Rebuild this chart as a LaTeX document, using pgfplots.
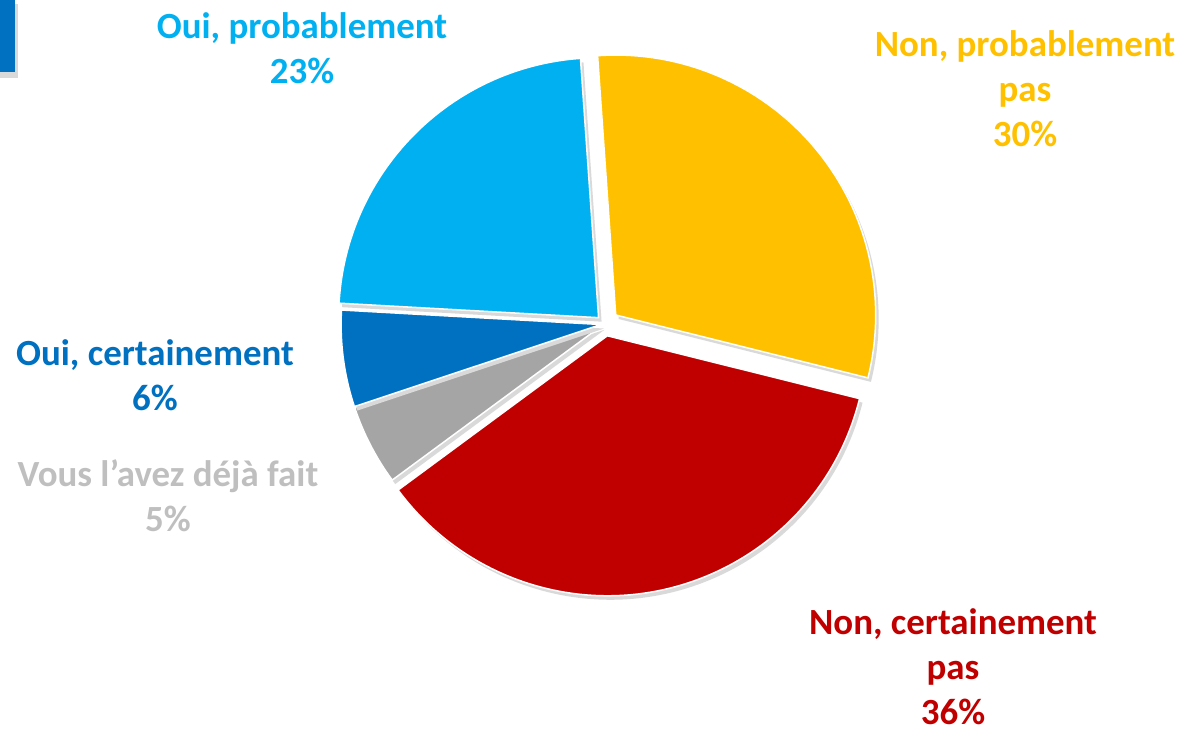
\documentclass[border=0pt]{standalone}
\usepackage{pgfplots}
\pgfplotsset{compat=1.18}
\usetikzlibrary{calc}
\usepackage{fontspec}
\setmainfont{Carlito}

\definecolor{cYellow}{HTML}{FFC000}
\definecolor{cRed}{HTML}{C00000}
\definecolor{cGray}{HTML}{A5A5A5}
\definecolor{cDBlue}{HTML}{0070C0}
\definecolor{cLBlue}{HTML}{00B0F0}
\definecolor{cLabGray}{HTML}{BFBFBF}
\definecolor{cShadow}{HTML}{D9D9D9}

% pie centre and radius in pixels of the reference
\def\cx{605}
\def\cy{324}
\def\rad{5.2cm}

% #1 start angle, #2 value (%), #3 explode (px), #4 fill colour
\newcommand{\slice}[4]{%
  \pgfplotsextra{%
  \pgfmathsetmacro\sA{#1}%
  \pgfmathsetmacro\sB{#1-#2*3.6}%
  \pgfmathsetmacro\sM{(\sA+\sB)/2}%
  \pgfmathsetmacro\sR{#3*0.02}%
  \fill[cShadow] ($(axis cs:\cx,\cy)+(\sM:\sR cm)+(0.06cm,-0.08cm)$) -- ++(\sA:\rad)
    arc[start angle=\sA, end angle=\sB, radius=\rad] -- cycle;
  \filldraw[fill=#4, draw=white, line width=0.03cm] ($(axis cs:\cx,\cy)+(\sM:\sR cm)$) -- ++(\sA:\rad)
    arc[start angle=\sA, end angle=\sB, radius=\rad] -- cycle;
  }%
}

\begin{document}
\begin{tikzpicture}
\begin{axis}[
  hide axis,
  scale only axis,
  x=0.02cm, y=0.02cm,
  xmin=0, xmax=1181, ymin=0, ymax=730,
  y dir=reverse,
  clip=false,
]
\coordinate (bl) at (axis cs:0,730);
\coordinate (tr) at (axis cs:1181,0);

% corner marker
\fill[cShadow] (axis cs:0,4) rectangle (axis cs:18,78);
\fill[cDBlue] (axis cs:0,0) rectangle (axis cs:15,72);

% slices, clockwise from the top
\slice{94}{30}{14}{cYellow}
\slice{94-3.6*30}{36}{12}{cRed}
\slice{94-3.6*66}{5}{4}{cGray}
\slice{94-3.6*71}{6}{4}{cDBlue}
\slice{94-3.6*77}{23}{9}{cLBlue}

\tikzset{lab/.style={align=center, inner sep=0pt, font=\fontsize{21}{25.6}\selectfont\bfseries}}
\node[lab, text=cLBlue] at (axis cs:302,48) {Oui, probablement\\23\%};
\node[lab, text=cYellow] at (axis cs:1025,89) {Non, probablement\\pas\\30\%};
\node[lab, text=cDBlue] at (axis cs:155,375) {Oui, certainement\\6\%};
\node[lab, text=cLabGray] at (axis cs:168,496) {Vous l’avez déjà fait\\5\%};
\node[lab, text=cRed] at (axis cs:953,667) {Non, certainement\\pas\\36\%};
\end{axis}
\pgfresetboundingbox
\useasboundingbox (bl) rectangle (tr);
\end{tikzpicture}
\end{document}
